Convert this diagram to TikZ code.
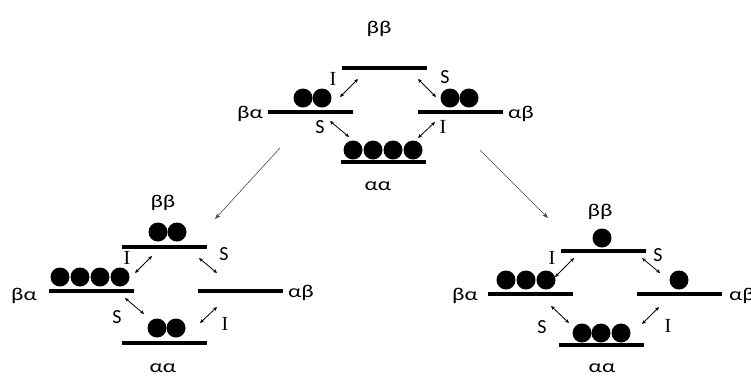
\documentclass[tikz,border=0pt]{standalone}
\usepackage{fontspec}
\setmainfont{Carlito}
\newfontfamily\gk[FakeStretch=1.3]{Carlito}
\newfontfamily\serifI{Liberation Serif}
\usetikzlibrary{arrows.meta}
\tikzset{
  lvl/.style={fill=black, inner sep=0pt, minimum width=85pt, minimum height=3.8pt},
  dot/.style={circle, fill=black, inner sep=0pt, minimum size=19pt},
  lab/.style={font=\gk\fontsize{18}{20}\selectfont, inner sep=0pt},
  slab/.style={font=\fontsize{20}{22}\selectfont, inner sep=0pt},
  ilab/.style={font=\serifI\fontsize{20}{22}\selectfont, inner sep=0pt},
  tr/.style={{Stealth[length=4pt,width=3.5pt]}-{Stealth[length=4pt,width=3.5pt]}, line width=0.8pt},
  big/.style={-{Stealth[length=6pt,width=4.5pt]}, line width=0.6pt, draw=black!70},
}
\begin{document}
\begin{tikzpicture}[x=1pt,y=-1pt]
\useasboundingbox (0,0) rectangle (751,376);
% ---------- top diagram ----------
\node[lvl] (Tbb) at (384.5,68) {};
\node[lvl] (Tba) at (310.5,112) {};
\node[lvl] (Tab) at (460,112) {};
\node[lvl] (Taa) at (383.5,162) {};
\node[lab] (TbbL) at (379,29) {ββ};
\node[lab] (TbaL) at (250,114) {βα};
\node[lab] (TabL) at (521,114) {αβ};
\node[lab] (TaaL) at (378,186) {αα};
\node[dot] (t1) at (303,98) {};
\node[dot] (t2) at (322,98) {};
\node[dot] (t3) at (450,98) {};
\node[dot] (t4) at (469,98) {};
\node[dot] (t5) at (353,150) {};
\node[dot] (t6) at (373,150) {};
\node[dot] (t7) at (393,150) {};
\node[dot] (t8) at (413,150) {};
\draw[tr] (340,97) -- (358,79);
\draw[tr] (418,79) -- (436,97);
\draw[tr] (330,121) -- (349,137);
\draw[tr] (418,138) -- (435,122);
\node[ilab] (TI1) at (333,79) {I};
\node[slab] (TS1) at (445,77) {S};
\node[slab] (TS2) at (320,127) {S};
\node[ilab] (TI2) at (443,127) {I};
% ---------- bottom-left diagram ----------
\node[lvl] (Lbb) at (164.5,247) {};
\node[lvl] (Lba) at (91.5,291) {};
\node[lvl] (Lab) at (240.5,291) {};
\node[lvl] (Laa) at (164.5,343) {};
\node[lab] (LbbL) at (163,203) {ββ};
\node[lab] (LbaL) at (24,296) {βα};
\node[lab] (LabL) at (301,293) {αβ};
\node[lab] (LaaL) at (163,368) {αα};
\node[dot] (l1) at (158,232) {};
\node[dot] (l2) at (177,232) {};
\node[dot] (l3) at (60,277) {};
\node[dot] (l4) at (80,277) {};
\node[dot] (l5) at (100,277) {};
\node[dot] (l6) at (120,277) {};
\node[dot] (l7) at (157,328) {};
\node[dot] (l8) at (176,328) {};
\draw[tr] (135,273) -- (152,256);
\draw[tr] (199,258) -- (217,273);
\draw[tr] (125,298) -- (144,314);
\draw[tr] (200,323) -- (217,307);
\node[ilab] (LI1) at (127,258) {I};
\node[slab] (LS1) at (224,254) {S};
\node[slab] (LS2) at (117,317) {S};
\node[ilab] (LI2) at (225,324) {I};
% ---------- bottom-right diagram ----------
\node[lvl] (Rbb) at (603,251) {};
\node[lvl] (Rba) at (530,294) {};
\node[lvl] (Rab) at (679,294) {};
\node[lvl] (Raa) at (601.5,345) {};
\node[lab] (RbbL) at (600,212) {ββ};
\node[lab] (RbaL) at (465,296) {βα};
\node[lab] (RabL) at (742,296) {αβ};
\node[lab] (RaaL) at (602,368) {αα};
\node[dot] (r1) at (602,238) {};
\node[dot] (r2) at (506,280) {};
\node[dot] (r3) at (526,280) {};
\node[dot] (r4) at (546,280) {};
\node[dot] (r5) at (679,280) {};
\node[dot] (r6) at (582,333) {};
\node[dot] (r7) at (601,333) {};
\node[dot] (r8) at (621,333) {};
\draw[tr] (555,277) -- (574,258);
\draw[tr] (642,258) -- (660,273);
\draw[tr] (551,306) -- (569,323);
\draw[tr] (642,324) -- (659,307);
\node[ilab] (RI1) at (552,258) {I};
\node[slab] (RS1) at (658,255) {S};
\node[slab] (RS2) at (542,327) {S};
\node[ilab] (RI2) at (668,326) {I};
% ---------- big arrows ----------
\coordinate (a1s) at (280,148);
\coordinate (a1e) at (215,219);
\coordinate (a2s) at (480,150);
\coordinate (a2e) at (548,218);
\draw[big] (a1s) -- (a1e);
\draw[big] (a2s) -- (a2e);
\end{tikzpicture}
\end{document}
